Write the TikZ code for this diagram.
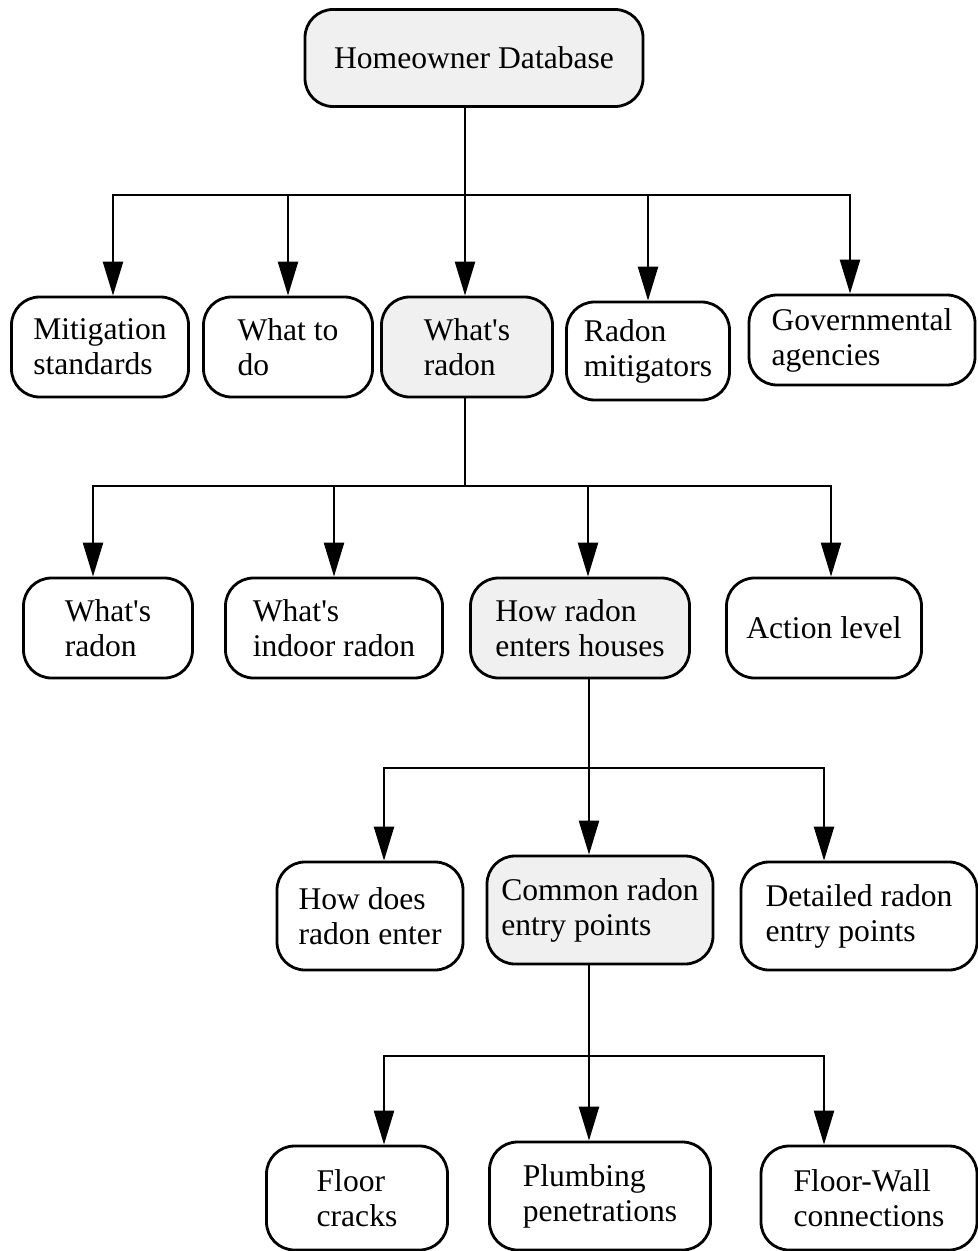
\documentclass[tikz,border=0pt]{standalone}
\usepackage{fontspec}
\setmainfont{Liberation Serif}
\usetikzlibrary{arrows.meta}

\begin{document}
\begin{tikzpicture}[
        x=0.5pt, y=-0.5pt,
        line width=1.2pt,
        font=\fontsize{15.8pt}{17.5pt}\selectfont,
        box/.style={draw, line width=1.4pt, rounded corners=14pt, align=left, inner sep=2pt},
        focus/.style={box, fill=gray!12},
        >={Triangle[length=17pt, width=10pt]}
      ]
        \useasboundingbox (0,0) rectangle (978,1251);

        % top
        \node[focus, minimum width=169pt, minimum height=48.5pt] (home) at (474,58) {Homeowner Database};

        % first level
        \node[box, minimum width=88.5pt, minimum height=50pt] (mit) at (100,347) {Mitigation\\standards};
        \node[box, minimum width=84.5pt, minimum height=50pt] (todo) at (288,347) {What to\\do};
        \node[focus, minimum width=85.5pt, minimum height=50pt] (wr) at (467,347) {What\textquotesingle s\\radon};
        \node[box, minimum width=81.5pt, minimum height=49pt] (rm) at (648,351) {Radon\\mitigators};
        \node[box, minimum width=113pt, minimum height=45pt] (gov) at (862,340) {Governmental\\agencies};

        % second level
        \node[box, minimum width=84.5pt, minimum height=50pt] (wr2) at (108,628) {What\textquotesingle s\\radon};
        \node[box, minimum width=108.5pt, minimum height=50pt] (indoor) at (334,628) {What\textquotesingle s\\indoor radon};
        \node[focus, minimum width=109.5pt, minimum height=50pt] (enters) at (580,628) {How radon\\enters houses};
        \node[box, minimum width=97.5pt, minimum height=50pt] (action) at (824,628) {Action level};

        % third level
        \node[box, minimum width=93pt, minimum height=54pt] (howdoes) at (370,916) {How does\\radon enter};
        \node[focus, minimum width=113pt, minimum height=54pt] (common) at (600,910) {Common radon\\entry points};
        \node[box, minimum width=118pt, minimum height=54pt] (detail) at (859,916) {Detailed radon\\entry points};

        % fourth level
        \node[box, minimum width=90.5pt, minimum height=52pt] (floor) at (357,1198) {Floor\\cracks};
        \node[box, minimum width=110.5pt, minimum height=54pt] (plumb) at (600,1196) {Plumbing\\penetrations};
        \node[box, minimum width=108pt, minimum height=52pt] (fw) at (869,1198) {Floor-Wall\\connections};

        % junctions
        \coordinate (b1) at (465,195);
        \coordinate (b2) at (465,486);
        \coordinate (b3) at (589,768);
        \coordinate (b4) at (589,1056);

        \draw (home.south -| b1) -- (b1);
        \draw[->] (b1) -| ([xshift=6.5pt]mit.north);
        \draw[->] (b1) -| (todo.north);
        \draw[->] (b1) -- (wr.north -| b1);
        \draw[->] (b1) -| (rm.north);
        \draw[->] (b1) -| ([xshift=-6pt]gov.north);

        \draw (wr.south -| b2) -- (b2);
        \draw[->] (b2) -| ([xshift=-7.5pt]wr2.north);
        \draw[->] (b2) -| (indoor.north);
        \draw[->] (b2) -| ([xshift=4pt]enters.north);
        \draw[->] (b2) -| ([xshift=3.5pt]action.north);

        \draw (enters.south -| b3) -- (b3);
        \draw[->] (b3) -| ([xshift=7pt]howdoes.north);
        \draw[->] (b3) -- (common.north -| b3);
        \draw[->] (b3) -| ([xshift=-17.5pt]detail.north);

        \draw (common.south -| b4) -- (b4);
        \draw[->] (b4) -| ([xshift=13.5pt]floor.north);
        \draw[->] (b4) -- (plumb.north -| b4);
        \draw[->] (b4) -| ([xshift=-22.5pt]fw.north);
    \end{tikzpicture}
\end{document}
